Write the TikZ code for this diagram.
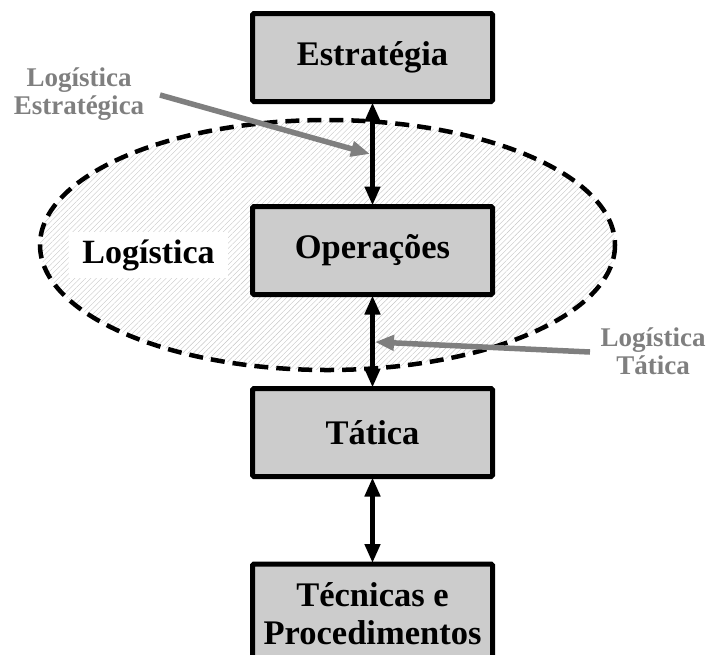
\documentclass[tikz,border=0pt]{standalone}
\usepackage{fontspec}
\setmainfont{Liberation Serif}
\usetikzlibrary{arrows.meta,patterns.meta}
\definecolor{boxgray}{HTML}{CCCCCC}
\definecolor{lblgray}{HTML}{7F7F7F}
\definecolor{hatchgray}{HTML}{C4C4C4}
\tikzset{
  levelbox/.style={draw=black, line width=5pt, fill=boxgray, rounded corners=1.5pt,
    minimum width=240pt, minimum height=88pt, inner sep=0pt,
    font=\fontsize{34.5}{38}\selectfont\bfseries, align=center},
  graylbl/.style={text=lblgray, font=\fontsize{27}{28}\selectfont\bfseries, align=center, inner sep=0pt},
  link/.style={line width=4.5pt, {Triangle[length=19pt,width=15pt]}-{Triangle[length=19pt,width=15pt]}, shorten <=-1.5pt, shorten >=-1.5pt},
  pointer/.style={draw=lblgray, line width=5.5pt, -{Triangle[length=19pt,width=15pt]}},
}
\begin{document}
\begin{tikzpicture}[x=1pt,y=-1pt]
\useasboundingbox (0,0) rectangle (706,654);
% ellipse region
\path[pattern={Lines[angle=45,distance=3.8pt,line width=0.4pt]}, pattern color=hatchgray]
  (327.5,245) ellipse [x radius=287.5, y radius=125];
\draw[line width=4.5pt, dash pattern=on 14pt off 8pt]
  (327.5,245) ellipse [x radius=287.5, y radius=125];
% boxes
\node[levelbox] (est) at (372.5,57.5) {Estratégia};
\node[levelbox] (ope) at (372.5,250.5) {Operações};
\node[levelbox] (tat) at (372.5,432.5) {Tática};
\node[levelbox, minimum height=100pt, text depth=0pt] (tec) at (372.5,614) {Técnicas e\\Procedimentos};
% ellipse label
\node[fill=white, inner xsep=13pt, minimum height=46pt, font=\fontsize{34}{36}\selectfont\bfseries] (log) at (148.5,255) {Logística};
% links
\draw[link] (est.south) -- (ope.north);
\draw[link] (ope.south) -- (tat.north);
\draw[link] (tat.south) -- (tec.north);
% gray labels
\node[graylbl] (le) at (79,94) {Logística\\Estratégica};
\node[graylbl] (lt) at (653,351) {Logística\\Tática};
\coordinate (leS) at (160,95);
\coordinate (leE) at (370,154);
\coordinate (ltS) at (590,352);
\coordinate (ltE) at (375,342);
\draw[pointer] (leS) -- (leE);
\draw[pointer] (ltS) -- (ltE);
\end{tikzpicture}
\end{document}
